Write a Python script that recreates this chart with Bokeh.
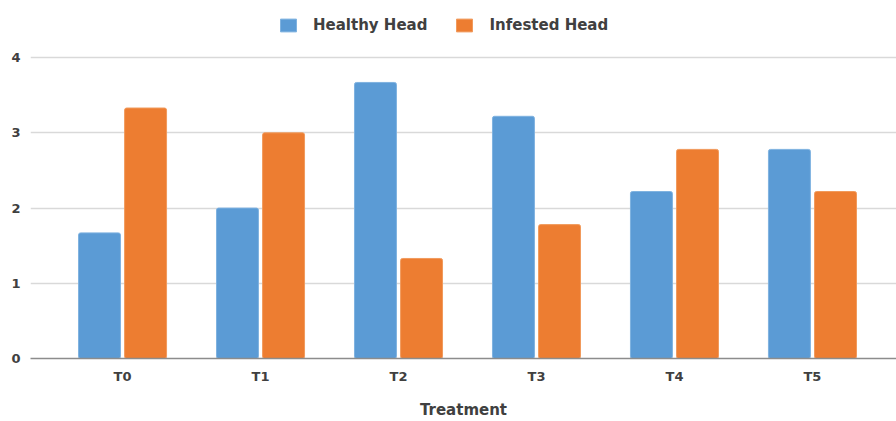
from bokeh.plotting import figure
from bokeh.models import ColumnDataSource, Range1d, FixedTicker, Legend, LegendItem
from bokeh.transform import dodge
from bokeh.embed import file_html
from bokeh.resources import INLINE

categories = ["T0", "T1", "T2", "T3", "T4", "T5"]
healthy = [1.67, 2.0, 3.67, 3.22, 2.22, 2.78]
infested = [3.33, 3.0, 1.33, 1.78, 2.78, 2.22]
y_ticks = [0, 1, 2, 3, 4]

src = ColumnDataSource(dict(x=list(range(len(categories))), healthy=healthy, infested=infested))

p = figure(width=896, height=421, output_backend="svg", toolbar_location=None,
           x_range=Range1d(-0.667, 5.609), y_range=Range1d(0, 4.6),
           min_border_left=30, min_border_right=0, min_border_top=12, min_border_bottom=63)
p.outline_line_color = None

r1 = p.vbar(x=dodge("x", -0.167), top="healthy", width=0.304, source=src,
            fill_color="#5B9BD5", line_color="#7FB2E0", line_width=1, border_radius=2)
r2 = p.vbar(x=dodge("x", 0.167), top="infested", width=0.304, source=src,
            fill_color="#ED7D31", line_color="#F19A5C", line_width=1, border_radius=2)

p.xaxis.ticker = FixedTicker(ticks=list(range(len(categories))))
p.xaxis.major_label_overrides = {i: c for i, c in enumerate(categories)}
p.xaxis.major_tick_line_color = None
p.xaxis.major_tick_out = 0
p.xaxis.major_tick_in = 0
p.xaxis.minor_tick_line_color = None
p.xaxis.axis_line_color = "#8c8c8c"
p.xaxis.axis_line_width = 1.5
p.xaxis.major_label_standoff = 10
p.xaxis.major_label_text_font = "DejaVu Sans"
p.xaxis.major_label_text_font_style = "bold"
p.xaxis.major_label_text_font_size = "13px"
p.xaxis.major_label_text_color = "#404040"
p.xaxis.axis_label = "Treatment"
p.xaxis.axis_label_text_font = "DejaVu Sans"
p.xaxis.axis_label_text_font_style = "bold"
p.xaxis.axis_label_text_font_size = "15px"
p.xaxis.axis_label_text_color = "#404040"
p.xaxis.axis_label_standoff = 14

p.yaxis.ticker = FixedTicker(ticks=y_ticks)
p.yaxis.axis_line_color = None
p.yaxis.major_tick_line_color = None
p.yaxis.major_tick_out = 0
p.yaxis.major_tick_in = 0
p.yaxis.minor_tick_line_color = None
p.yaxis.major_label_standoff = 10
p.yaxis.major_label_text_font = "DejaVu Sans"
p.yaxis.major_label_text_font_style = "bold"
p.yaxis.major_label_text_font_size = "13px"
p.yaxis.major_label_text_color = "#404040"

p.xgrid.grid_line_color = None
p.ygrid.grid_line_color = "#d9d9d9"
p.ygrid.grid_line_width = 1.5

legend = Legend(items=[LegendItem(label="Healthy Head", renderers=[r1]),
                       LegendItem(label="Infested Head", renderers=[r2])],
                orientation="horizontal", location=(248, 324),
                glyph_width=20, glyph_height=16, label_standoff=15, spacing=27,
                padding=0, margin=0, border_line_color=None, background_fill_alpha=0,
                label_text_font="DejaVu Sans", label_text_font_style="bold",
                label_text_font_size="15px", label_text_color="#404040")
p.add_layout(legend)

open("out.html", "w").write(file_html(p, INLINE))
